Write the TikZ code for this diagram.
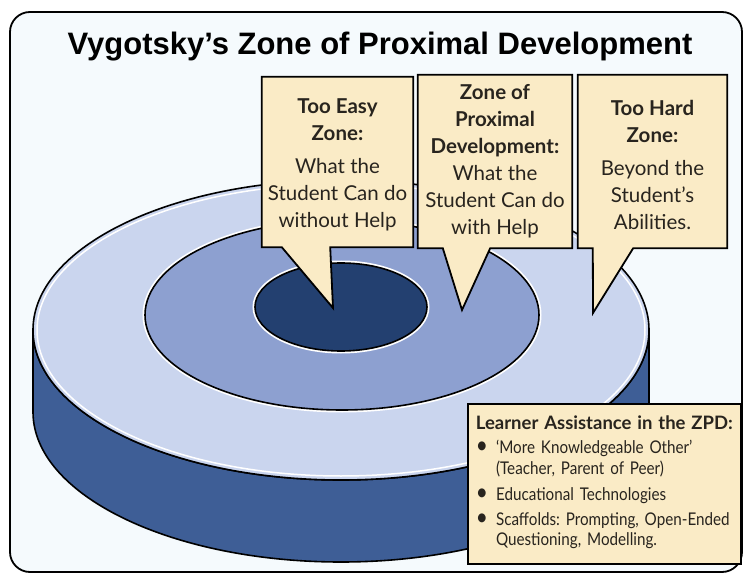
\documentclass[tikz,border=0pt]{standalone}
\usepackage{fontspec}
\setmainfont{Lato}
\newfontfamily\titlefont{Liberation Sans}
\newfontfamily\listfont[FakeStretch=0.87]{Lato}
\newcommand{\listdot}{{\fontsize{24}{20.5}\selectfont\textbullet}}
\usetikzlibrary{positioning}
\definecolor{framefill}{RGB}{245,250,253}
\definecolor{outerring}{RGB}{202,213,238}
\definecolor{midring}{RGB}{141,160,208}
\definecolor{innerzone}{RGB}{35,64,112}
\definecolor{discside}{RGB}{62,94,150}
\definecolor{notefill}{RGB}{250,235,198}
\definecolor{inktext}{RGB}{40,36,30}
\tikzset{
  frame/.style={
    draw,
    line width=1.8pt,
    rounded corners=20pt,
    fill=framefill
  },
  edge/.style={draw=black, line width=1.6pt},
  halo/.style={draw=white, line width=5pt},
  notebox/.style={draw=black, line width=1.8pt, fill=notefill, line join=miter},
  zonetext/.style={
    align=center,
    inner sep=0pt,
    text=inktext,
    font=\fontsize{20.5}{27}\selectfont
  }
}

\begin{document}
\frenchspacing
\begin{tikzpicture}[
      x=1pt,
      y=-1pt,
      titletext/.style={font=\titlefont\bfseries\fontsize{31}{34}\selectfont, inner sep=0pt},
      assistbox/.style={
        notebox,
        anchor=north west,
        align=left,
        text=inktext,
        text width=257pt,
        minimum height=160pt,
        inner xsep=8pt,
        inner ysep=8pt,
        font=\listfont\fontsize{17.5}{20.5}\selectfont
      }
    ]
    \useasboundingbox (0,0) rectangle (745,575);
    \path[frame] (10,12) rectangle (742,572);

    \node[titletext, anchor=base] (title) at (380,55) {Vygotsky’s Zone of Proximal Development};

    % disc: side, then the three zones on top
    \path[edge, fill=discside] (33,330) -- (33,412)
      arc[start angle=180, end angle=360, x radius=308pt, y radius=150pt]
      -- (649,330)
      arc[start angle=0, end angle=-180, x radius=308pt, y radius=150pt] -- cycle;
    \path[edge, fill=outerring] (341,330) ellipse[x radius=308pt, y radius=150pt];
    \draw[white, line width=1.5pt] (341,330) ellipse[x radius=304pt, y radius=146pt];
    \path[halo] (342,315) ellipse[x radius=197pt, y radius=95pt];
    \path[edge, fill=midring] (342,315) ellipse[x radius=197pt, y radius=95pt];
    \path[halo] (341,307) ellipse[x radius=86pt, y radius=44pt];
    \path[edge, fill=innerzone] (341,307) ellipse[x radius=86pt, y radius=44pt];

    % callouts
    \node[zonetext, minimum width=151pt, minimum height=170pt] (easy) at (337.5,162) {};
    \node[zonetext, minimum width=154pt, minimum height=173pt] (zpd) at (495,161.5) {};
    \node[zonetext, minimum width=149pt, minimum height=173pt] (hard) at (652.5,161.5) {};
    \coordinate (easytip) at (333,308);
    \coordinate (zpdtip) at (462,310);
    \coordinate (hardtip) at (593,313);

    \path[notebox] (easy.north west) -- (easy.north east) -- (easy.south east)
      -- ([xshift=-83pt]easy.south east) -- (easytip) -- ([xshift=20pt]easy.south west)
      -- (easy.south west) -- cycle;
    \path[notebox] (zpd.north west) -- (zpd.north east) -- (zpd.south east)
      -- ([xshift=-82pt]zpd.south east) -- (zpdtip) -- ([xshift=25pt]zpd.south west)
      -- (zpd.south west) -- cycle;
    \path[notebox] (hard.north west) -- (hard.north east) -- (hard.south east)
      -- ([xshift=-94pt]hard.south east) -- (hardtip) -- ([xshift=15pt]hard.south west)
      -- (hard.south west) -- cycle;

    \node[zonetext] (easylabel) at ([yshift=-3pt]easy.center)
      {\textbf{Too Easy}\\\textbf{Zone:}\\[6pt]What the\\Student Can do\\without Help};
    \node[zonetext] (zpdlabel) at (zpd.center)
      {\textbf{Zone of}\\\textbf{Proximal}\\\textbf{Development:}\\What the\\Student Can do\\with Help};
    \node[zonetext] (hardlabel) at ([yshift=-3pt]hard.center)
      {\textbf{Too Hard}\\\textbf{Zone:}\\[6pt]Beyond the\\Student’s\\Abilities.};

    \node[assistbox] (assist) at (467,403)
      {{\fontsize{18.5}{22}\selectfont\normalfont\bfseries Learner Assistance in the ZPD:}\\[9pt]
       \begin{tabular}{@{}l@{\hspace{8pt}}l@{}}
         \listdot & ‘More Knowledgeable Other’\\
                  & (Teacher, Parent of Peer)\\[6pt]
         \listdot & Educational Technologies\\[4pt]
         \listdot & Scaffolds: Prompting, Open-Ended\\
                  & Questioning, Modelling.
       \end{tabular}};
  \end{tikzpicture}
\end{document}
